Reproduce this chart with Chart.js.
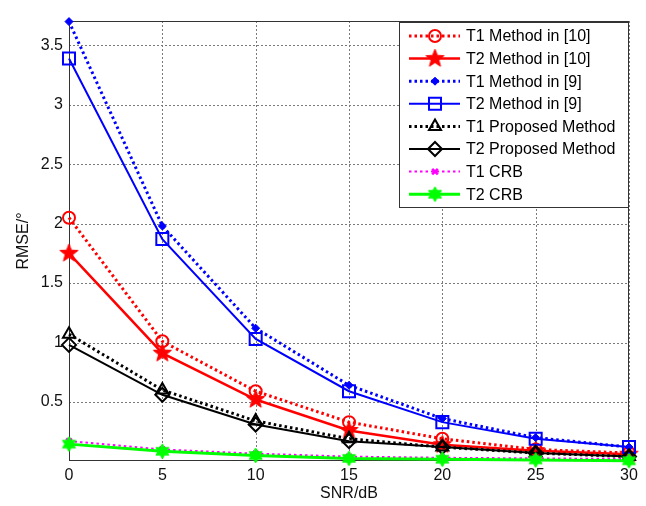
<!DOCTYPE html>
<html>
<head>
<meta charset="utf-8">
<script src="https://cdn.jsdelivr.net/npm/chart.js@4"></script>
<style>
  html, body { margin: 0; padding: 0; background: #fff; }
  #wrap { width: 646px; height: 506px; }
</style>
</head>
<body>
<div id="wrap"><canvas id="myChart" width="646" height="506"></canvas></div>
<script>
// SNR values on the x axis
var snr = [0, 5, 10, 15, 20, 25, 30];

// RMSE values
var t1Method10 = [2.05, 1.01, 0.59, 0.33, 0.19, 0.10, 0.07];
var t2Method10 = [1.75, 0.91, 0.52, 0.26, 0.14, 0.09, 0.06];
var t1Method9  = [3.70, 1.98, 1.12, 0.64, 0.36, 0.20, 0.12];
var t2Method9  = [3.39, 1.87, 1.03, 0.59, 0.33, 0.19, 0.12];
var t1Proposed = [1.07, 0.60, 0.34, 0.19, 0.12, 0.07, 0.04];
var t2Proposed = [0.98, 0.56, 0.31, 0.17, 0.12, 0.07, 0.04];
var t1Crb      = [0.17, 0.10, 0.065, 0.04, 0.03, 0.025, 0.02];
var t2Crb      = [0.145, 0.085, 0.05, 0.025, 0.018, 0.012, 0.005];

var yTicks = [0.5, 1, 1.5, 2, 2.5, 3, 3.5];
var xTicks = [0, 5, 10, 15, 20, 25, 30];

var FONT = "'Liberation Sans', Arial, Helvetica, sans-serif";

// filled star markers (pentagram / hexagram like matlab)
function makeStar(n, rOut, rIn, color) {
  var c = document.createElement('canvas');
  var s = Math.ceil(rOut * 2 + 4);
  c.width = s; c.height = s;
  var g = c.getContext('2d');
  g.beginPath();
  for (var i = 0; i < n * 2; i++) {
    var r = i % 2 ? rIn : rOut;
    var a = -Math.PI / 2 + i * Math.PI / n;
    g.lineTo(s / 2 + r * Math.cos(a), s / 2 + r * Math.sin(a));
  }
  g.closePath();
  g.fillStyle = color;
  g.fill();
  g.strokeStyle = color;
  g.lineWidth = 1;
  g.stroke();
  return c;
}

var pentagram = makeStar(5, 9.5, 4, '#ff0000');
var hexagram = makeStar(6, 7.5, 4.2, '#00ff00');

function pts(arr) {
  return arr.map(function (v, i) { return { x: snr[i], y: v }; });
}

function series(label, data, color, dotted, width, style, radius, fill, pw) {
  return {
    label: label,
    data: pts(data),
    borderColor: color,
    borderWidth: width,
    borderDash: dotted ? [2.5, 3] : [],
    pointStyle: style,
    pointRadius: radius,
    pointBorderWidth: pw,
    pointBorderColor: color,
    pointBackgroundColor: fill ? color : 'rgba(0,0,0,0)',
    pointHoverRadius: radius,
    tension: 0,
    clip: false
  };
}

var datasets = [
  series('T1 Method in [10]', t1Method10, '#ff0000', true, 3, 'circle', 6, false, 2),
  series('T2 Method in [10]', t2Method10, '#ff0000', false, 2.5, pentagram, 9, true, 1),
  series('T1 Method in [9]', t1Method9, '#0000ff', true, 3, 'rectRot', 4, true, 1),
  series('T2 Method in [9]', t2Method9, '#0000ff', false, 2, 'rect', 8.5, false, 2),
  series('T1 Proposed Method', t1Proposed, '#000000', true, 3, 'triangle', 7, false, 2),
  series('T2 Proposed Method', t2Proposed, '#000000', false, 2, 'rectRot', 7, false, 2),
  series('T1 CRB', t1Crb, '#ff00ff', true, 2, 'crossRot', 4, false, 2.5),
  series('T2 CRB', t2Crb, '#00ff00', false, 3, hexagram, 7, true, 1)
];
// later series on top, like matlab
datasets.forEach(function (d, i) { d.order = datasets.length - i; });

// dotted grid and box around the axes
var framePlugin = {
  id: 'frame',
  beforeDatasetsDraw: function (chart) {
    var a = chart.chartArea, ctx = chart.ctx;
    var xs = chart.scales.x, ys = chart.scales.y;
    ctx.save();
    ctx.strokeStyle = '#7a7a7a';
    ctx.lineWidth = 1;
    ctx.setLineDash([2, 2]);
    ctx.beginPath();
    xTicks.forEach(function (v) {
      var px = Math.round(xs.getPixelForValue(v)) + 0.5;
      ctx.moveTo(px, a.top);
      ctx.lineTo(px, a.bottom);
    });
    yTicks.forEach(function (v) {
      var py = Math.round(ys.getPixelForValue(v)) + 0.5;
      ctx.moveTo(a.left, py);
      ctx.lineTo(a.right, py);
    });
    ctx.stroke();
    ctx.setLineDash([]);
    ctx.strokeStyle = '#333';
    ctx.strokeRect(a.left + 0.5, a.top + 0.5, a.right - a.left - 1, a.bottom - a.top - 1);
    ctx.restore();
  }
};

// matlab style legend in the top right corner
var legendPlugin = {
  id: 'boxLegend',
  afterDraw: function (chart) {
    var a = chart.chartArea, ctx = chart.ctx;
    var w = 230, h = 186, rowH = 22.6;
    var x0 = a.right - w, y0 = a.top + 1;
    ctx.save();
    ctx.fillStyle = '#fff';
    ctx.fillRect(x0, y0, w, h);
    ctx.strokeStyle = '#333';
    ctx.lineWidth = 1;
    ctx.strokeRect(x0 + 0.5, y0 + 0.5, w - 1, h - 1);
    ctx.font = '16px ' + FONT;
    ctx.textBaseline = 'middle';
    chart.data.datasets.forEach(function (d, i) {
      var y = y0 + 14 + i * rowH;
      ctx.strokeStyle = d.borderColor;
      ctx.lineWidth = d.borderWidth;
      ctx.setLineDash(d.borderDash);
      ctx.beginPath();
      ctx.moveTo(x0 + 10, y);
      ctx.lineTo(x0 + 61, y);
      ctx.stroke();
      ctx.setLineDash([]);
      ctx.fillStyle = d.pointBackgroundColor;
      ctx.lineWidth = d.pointBorderWidth;
      Chart.helpers.drawPoint(ctx, {
        pointStyle: d.pointStyle,
        radius: d.pointRadius,
        borderWidth: d.pointBorderWidth,
        rotation: 0
      }, x0 + 36, y);
      ctx.fillStyle = '#000';
      ctx.fillText(d.label, x0 + 67, y + 1);
    });
    ctx.restore();
  }
};

var chart = new Chart(document.getElementById('myChart'), {
  type: 'line',
  data: { datasets: datasets },
  options: {
    responsive: false,
    animation: false,
    events: [],
    layout: { padding: { left: 0, top: 21, right: 17, bottom: 0 } },
    plugins: {
      legend: { display: false },
      tooltip: { enabled: false }
    },
    scales: {
      x: {
        type: 'linear',
        min: 0,
        max: 30,
        afterBuildTicks: function (s) { s.ticks = xTicks.map(function (v) { return { value: v }; }); },
        afterFit: function (s) { s.height = 45; },
        ticks: {
          color: '#111',
          font: { family: FONT, size: 16 },
          padding: 5,
          maxRotation: 0,
          callback: function (v) { return String(v); }
        },
        grid: { display: false, drawTicks: false },
        border: { display: false },
        title: {
          display: true,
          text: 'SNR/dB',
          color: '#111',
          font: { family: FONT, size: 16 },
          padding: { top: 0, bottom: 3 }
        }
      },
      y: {
        type: 'linear',
        min: 0.003,
        max: 3.705,
        afterBuildTicks: function (s) { s.ticks = yTicks.map(function (v) { return { value: v }; }); },
        afterFit: function (s) { s.width = 69; },
        ticks: {
          color: '#111',
          font: { family: FONT, size: 16 },
          padding: 6,
          callback: function (v) { return String(v); }
        },
        grid: { display: false, drawTicks: false },
        border: { display: false },
        title: {
          display: true,
          text: 'RMSE/°',
          color: '#111',
          font: { family: FONT, size: 16 },
          padding: { top: 14, bottom: 0 }
        }
      }
    }
  },
  plugins: [framePlugin, legendPlugin]
});
</script>
</body>
</html>
